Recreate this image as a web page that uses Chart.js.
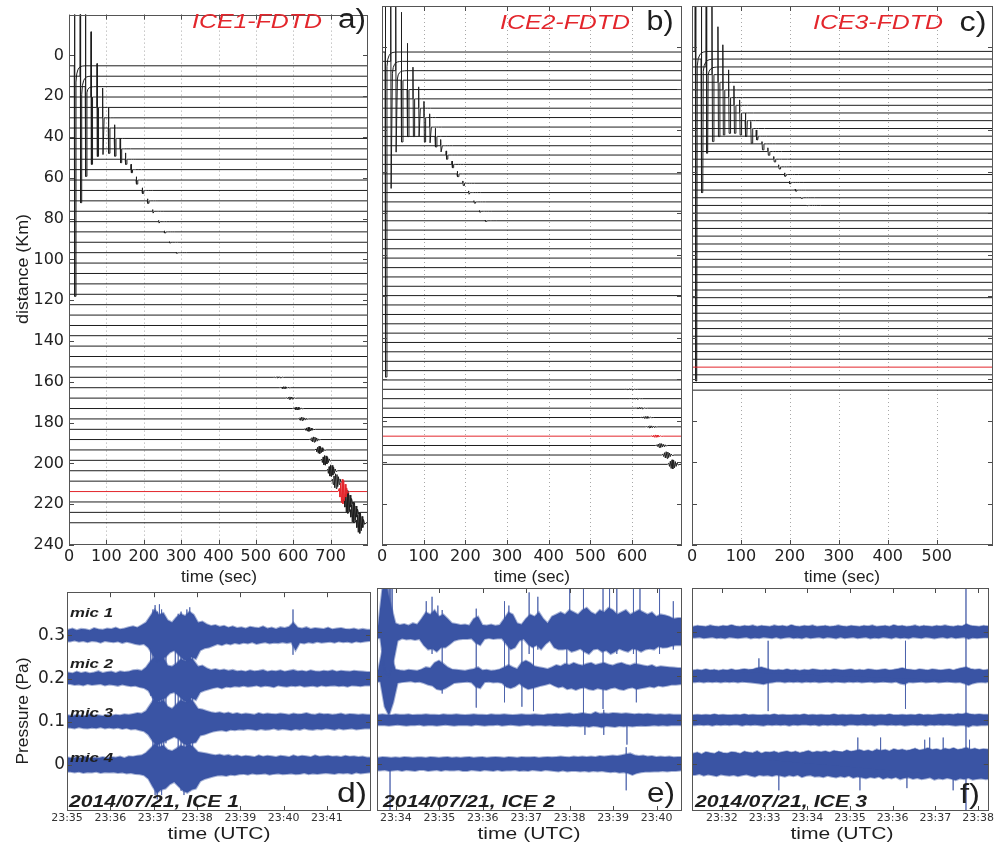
<!DOCTYPE html>
<html>
<head>
<meta charset="utf-8">
<title>ICE record sections and microphone pressure</title>
<script src="https://cdn.jsdelivr.net/npm/chart.js@4.4.0/dist/chart.umd.min.js"></script>
<style>
  html, body { margin: 0; padding: 0; background: #fff; }
  #wrap { position: relative; width: 995px; height: 848px; overflow: hidden; }
  canvas { position: absolute; }
</style>
</head>
<body>
<div id="wrap">
  <canvas id="ca"></canvas>
  <canvas id="cb"></canvas>
  <canvas id="cc"></canvas>
  <canvas id="cd"></canvas>
  <canvas id="ce"></canvas>
  <canvas id="cf"></canvas>
</div>
<script>
// ---------------- record sections (FDTD synthetics) ----------------
// trace distances, km
const A_DIST = [5.1, 10.2, 15.3, 20.4, 25.5, 30.6, 35.6, 40.7, 45.8, 50.9, 56.0, 61.1, 66.2, 71.3, 76.4, 81.5, 86.5, 91.6, 96.7, 101.8, 106.9, 112.0, 117.1, 122.2, 127.3, 132.4, 137.4, 142.5, 147.6, 152.7, 157.8, 162.9, 168.0, 173.1, 178.2, 183.3, 188.3, 193.4, 198.5, 203.6, 208.7, 213.8, 218.9, 224.0, 229.1];
const B_DIST = [2.2, 6.7, 11.2, 15.8, 20.3, 24.8, 29.3, 33.8, 38.4, 42.9, 47.4, 51.9, 56.4, 61.0, 65.5, 70.0, 74.5, 79.0, 83.6, 88.1, 92.6, 97.1, 101.6, 106.2, 110.7, 115.2, 119.7, 124.2, 128.8, 133.3, 137.8, 142.3, 146.8, 151.4, 155.9, 160.4, 164.9, 169.4, 174.0, 178.5, 183.0, 187.5, 192.0, 196.6, 201.1];
const C_DIST = [1.9, 5.6, 9.4, 13.1, 16.8, 20.5, 24.2, 27.9, 31.6, 35.3, 39.1, 42.8, 46.5, 50.2, 53.9, 57.6, 61.3, 65.1, 68.8, 72.5, 76.2, 79.9, 83.6, 87.3, 91.0, 94.8, 98.5, 102.2, 105.9, 109.6, 113.3, 117.0, 120.7, 124.5, 128.2, 131.9, 135.6, 139.3, 143.0, 146.7, 150.4, 154.2, 157.9, 161.6, 165.3];
const RED_TRACE = 41;   // station nearest the microphones

// direct arrivals on the first traces: time (s), upward / downward swing and slow tail (km)
const A_NEAR_T   = [14.7, 30, 44, 59, 75, 90, 105.6, 121.7, 137, 151, 166, 180, 196, 210, 224, 240, 255, 269, 287];
const A_NEAR_UP  = [60, 60, 50, 32, 21.5, 14.6, 10, 6.7, 5.2, 3.1, 2.6, 1.6, 1.3, 1, 0.8, 0.6, 0.5, 0.35, 0.25];
const A_NEAR_DN  = [113, 62, 44, 33, 24, 18, 12.4, 8.7, 6.8, 2.5, 1.5, 2, 1.5, 1.2, 0.9, 0.7, 0.5, 0.35, 0.25];
const A_NEAR_REC = [4, 4.5, 1.5];
const B_NEAR_T   = [7.9, 20.9, 32.9, 46.3, 60.7, 74.3, 88, 100.7, 114.4, 127.8, 140.8, 154, 168, 180.6, 194, 208, 220.6, 234, 247.7];
const B_NEAR_UP  = [60, 60, 50, 32.8, 22.3, 15.3, 10.3, 7.8, 6.4, 3.9, 3, 2, 1.6, 1.3, 1.1, 0.8, 0.6, 0.4, 0.3];
const B_NEAR_DN  = [156.8, 61.3, 39.3, 29.8, 22.7, 18.2, 13.7, 11.8, 7.6, 5.1, 3, 2, 1.6, 1.3, 1.1, 0.8, 0.6, 0.4, 0.3];
const B_NEAR_REC = [3.5, 3, 2];
const C_NEAR_T   = [6.7, 19, 29, 40.8, 53, 63, 74.8, 85.7, 97.3, 109, 120, 131.3, 143, 155, 167, 177, 189, 199, 211, 222, 234];
const C_NEAR_UP  = [60, 60, 50, 33, 26.8, 21.8, 13.4, 9.4, 6.3, 3.7, 3.4, 3, 1.1, 1.8, 1.3, 1, 0.8, 0.6, 0.5, 0.3, 0.2];
const C_NEAR_DN  = [159, 64.4, 41.6, 32.3, 26.2, 21.7, 17.2, 13.5, 10.6, 7.6, 7.1, 1.8, 2.9, 1.8, 1.3, 1, 0.8, 0.6, 0.5, 0.3, 0.2];
const C_NEAR_REC = [3.5, 3, 2];

// returns past the shadow zone: trace index, time (s), half amplitude (km)
const A_FAR_IDX = [30, 31, 32, 33, 34, 35, 36, 37, 38, 39, 40, 41, 42, 43, 44];
const A_FAR_T   = [560, 575, 592, 610, 623, 641, 655, 670, 685, 701, 714, 732, 745, 761, 777];
const A_FAR_AMP = [0.3, 0.5, 0.6, 0.7, 0.8, 1.0, 1.3, 1.8, 2.4, 2.9, 3.6, 6.0, 5.6, 5.2, 5.2];
const B_FAR_IDX = [36, 37, 38, 39, 40, 41, 42, 43, 44];
const B_FAR_T   = [595, 607, 619, 633, 644, 657, 668, 683, 697];
const B_FAR_AMP = [0.3, 0.3, 0.4, 0.5, 0.5, 0.6, 1.0, 1.6, 2.2];

const A_XTICKS = [0, 100, 200, 300, 400, 500, 600, 700];
const B_XTICKS = [0, 100, 200, 300, 400, 500, 600];
const C_XTICKS = [0, 100, 200, 300, 400, 500];
const DIST_TICKS = [0, 20, 40, 60, 80, 100, 120, 140, 160, 180, 200, 220, 240];

// ---------------- microphone records ----------------
const MIC_BASE = [0.3, 0.2, 0.1, 0];
const MIC_NAMES = ['mic 1', 'mic 2', 'mic 3', 'mic 4'];
const PRESSURE_TICKS = [0, 0.1, 0.2, 0.3];
const BIN = 6;   // seconds per envelope sample

const D_START = '23:35:00', D_END = '23:42:01';
const E_START = '23:33:34', E_END = '23:40:35';
const F_START = '23:31:18', F_END = '23:38:15';
const D_TIMES = ['23:35', '23:36', '23:37', '23:38', '23:39', '23:40', '23:41'];
const E_TIMES = ['23:34', '23:35', '23:36', '23:37', '23:38', '23:39', '23:40'];
const F_TIMES = ['23:32', '23:33', '23:34', '23:35', '23:36', '23:37', '23:38'];

// peak excursion above / below each baseline per 6 s, Pa
const D_MIC1_HI = [.013,.016,.012,.015,.014,.012,.017,.014,.013,.016, .015,.018,.014,.016,.019,.021,.018,.024,.030,.045, .060,.048,.052,.035,.030,.042,.050,.045,.055,.048, .030,.032,.026,.022,.024,.020,.022,.018,.021,.017, .019,.016,.020,.018,.017,.021,.016,.018,.015,.019, .017,.020,.030,.018,.016,.019,.015,.017,.016,.015, .018,.014,.016,.017,.015,.014,.016,.013,.015,.013];
const D_MIC1_LO = [.014,.012,.015,.013,.016,.013,.014,.017,.013,.015, .016,.014,.018,.015,.017,.020,.022,.020,.028,.045, .060,.055,.050,.040,.035,.045,.055,.060,.050,.055, .035,.030,.028,.024,.020,.023,.019,.021,.018,.020, .017,.019,.016,.020,.018,.016,.019,.017,.018,.016, .018,.016,.035,.017,.019,.016,.018,.015,.017,.016, .015,.017,.014,.016,.015,.017,.014,.016,.014,.013];
const D_MIC2_HI = [.014,.012,.016,.013,.015,.012,.014,.017,.013,.015, .016,.013,.017,.015,.016,.019,.020,.018,.026,.040, .050,.045,.048,.030,.028,.035,.045,.040,.050,.042, .028,.030,.024,.020,.022,.019,.021,.018,.020,.017, .018,.016,.019,.017,.018,.020,.016,.018,.017,.019, .016,.018,.020,.017,.018,.016,.019,.017,.016,.018, .017,.019,.016,.018,.017,.016,.018,.017,.016,.015];
const D_MIC2_LO = [.013,.015,.014,.016,.013,.015,.014,.013,.016,.014, .015,.017,.014,.016,.018,.017,.020,.022,.028,.045, .055,.050,.045,.035,.032,.040,.050,.055,.045,.050, .032,.028,.025,.022,.020,.023,.019,.020,.018,.019, .017,.019,.018,.016,.019,.017,.018,.020,.016,.018, .019,.017,.018,.016,.019,.018,.017,.019,.016,.018, .017,.016,.018,.017,.019,.016,.017,.018,.016,.016];
const D_MIC3_HI = [.015,.013,.016,.014,.013,.017,.014,.015,.013,.016, .014,.016,.015,.017,.016,.018,.020,.019,.025,.040, .055,.045,.050,.035,.030,.040,.050,.045,.055,.045, .030,.028,.025,.022,.020,.022,.019,.021,.018,.020, .017,.019,.018,.016,.020,.017,.019,.018,.017,.019, .018,.016,.019,.017,.018,.020,.017,.016,.019,.017, .018,.016,.017,.019,.016,.018,.017,.016,.017,.016];
const D_MIC3_LO = [.014,.016,.013,.015,.016,.014,.015,.013,.016,.014, .016,.014,.017,.015,.018,.017,.020,.022,.030,.045, .055,.050,.045,.040,.035,.040,.050,.055,.050,.048, .032,.030,.026,.023,.021,.020,.022,.019,.020,.018, .019,.017,.018,.020,.017,.019,.018,.016,.019,.017, .018,.020,.017,.019,.016,.018,.019,.017,.018,.016, .017,.019,.016,.018,.017,.016,.018,.017,.016,.016];
const D_MIC4_HI = [.017,.015,.018,.016,.019,.015,.017,.016,.018,.016, .018,.017,.019,.016,.020,.019,.021,.022,.028,.038, .048,.042,.045,.035,.032,.038,.045,.042,.048,.040, .030,.028,.026,.024,.022,.024,.021,.023,.020,.022, .019,.021,.020,.018,.022,.019,.021,.020,.018,.021, .020,.018,.022,.019,.021,.020,.018,.022,.019,.020, .021,.019,.020,.018,.021,.019,.020,.018,.019,.017];
const D_MIC4_LO = [.016,.018,.016,.019,.017,.018,.016,.019,.017,.018, .017,.019,.018,.020,.019,.021,.022,.024,.032,.050, .066,.058,.055,.045,.040,.050,.060,.065,.058,.055, .038,.033,.030,.027,.025,.024,.026,.023,.024,.022, .021,.023,.020,.022,.021,.020,.023,.021,.020,.022, .021,.020,.022,.021,.019,.022,.020,.021,.020,.019, .020,.021,.019,.020,.019,.021,.018,.020,.019,.018];

const E_MIC1_HI = [.015,.100,.100,.060,.020,.016,.018,.015,.020,.017, .030,.045,.040,.050,.035,.040,.030,.020,.018,.016, .017,.015,.030,.035,.016,.015,.017,.014,.016,.030, .045,.040,.020,.017,.030,.040,.035,.045,.030,.020, .035,.040,.045,.040,.050,.045,.040,.050,.055,.045, .040,.050,.045,.055,.050,.040,.045,.050,.040,.045, .050,.045,.040,.045,.035,.040,.038,.035,.030,.032];
const E_MIC1_LO = [.014,.090,.100,.070,.020,.015,.017,.016,.018,.016, .030,.040,.038,.045,.035,.035,.028,.020,.017,.016, .016,.015,.025,.030,.016,.014,.016,.015,.015,.028, .040,.035,.020,.016,.028,.035,.030,.040,.028,.020, .035,.040,.040,.038,.045,.042,.038,.045,.050,.040, .038,.045,.042,.050,.045,.038,.042,.045,.038,.040, .045,.040,.038,.040,.033,.036,.035,.032,.030,.030];
const E_MIC2_HI = [.013,.060,.080,.050,.015,.013,.012,.014,.013,.012, .015,.020,.018,.030,.035,.028,.020,.015,.014,.013, .012,.014,.016,.020,.013,.014,.012,.013,.015,.020, .025,.020,.016,.030,.035,.030,.022,.020,.018,.016, .020,.025,.022,.028,.025,.030,.026,.024,.028,.030, .025,.028,.030,.026,.024,.028,.030,.026,.024,.028, .026,.024,.022,.025,.020,.022,.021,.020,.019,.018];
const E_MIC2_LO = [.013,.070,.090,.060,.016,.014,.013,.012,.014,.013, .016,.020,.022,.030,.032,.028,.022,.016,.015,.014, .013,.015,.025,.028,.014,.013,.015,.014,.016,.025, .028,.024,.017,.025,.030,.028,.025,.022,.020,.017, .022,.026,.024,.030,.028,.032,.028,.026,.030,.032, .028,.030,.032,.028,.026,.030,.032,.028,.026,.030, .028,.026,.024,.026,.022,.024,.022,.020,.020,.019];
const E_MIC3_HI = [.012,.013,.012,.011,.013,.012,.012,.013,.011,.012, .012,.013,.012,.012,.011,.013,.012,.012,.013,.012, .011,.012,.013,.012,.012,.011,.013,.012,.012,.013, .012,.011,.012,.013,.012,.012,.013,.012,.011,.013, .013,.014,.013,.014,.015,.013,.014,.016,.014,.013, .018,.014,.015,.014,.016,.015,.014,.015,.014,.013, .014,.013,.014,.013,.012,.013,.012,.013,.012,.012];
const E_MIC3_LO = [.012,.012,.013,.012,.011,.012,.013,.012,.012,.011, .013,.012,.012,.013,.012,.011,.012,.013,.012,.012, .012,.013,.011,.012,.013,.012,.012,.011,.013,.012, .011,.012,.013,.012,.011,.013,.012,.012,.013,.012, .014,.013,.014,.015,.013,.014,.015,.014,.016,.014, .015,.017,.014,.015,.016,.014,.015,.014,.015,.014, .013,.014,.013,.012,.013,.012,.013,.012,.012,.012];
const E_MIC4_HI = [.014,.016,.015,.014,.015,.014,.016,.015,.014,.015, .015,.014,.016,.015,.014,.015,.016,.014,.015,.014, .015,.016,.014,.015,.016,.014,.015,.016,.015,.014, .016,.015,.014,.016,.015,.015,.016,.014,.015,.016, .015,.016,.017,.016,.015,.017,.016,.017,.016,.017, .016,.018,.017,.018,.019,.018,.020,.022,.024,.020, .018,.019,.017,.018,.016,.017,.016,.017,.015,.016];
const E_MIC4_LO = [.015,.014,.016,.015,.014,.016,.014,.015,.016,.014, .014,.016,.015,.014,.016,.014,.015,.015,.014,.016, .016,.014,.015,.016,.014,.015,.016,.014,.016,.015, .015,.014,.016,.015,.016,.014,.015,.016,.014,.015, .016,.017,.015,.017,.016,.016,.017,.016,.018,.016, .017,.016,.018,.019,.018,.020,.019,.021,.025,.021, .019,.018,.018,.017,.017,.016,.017,.016,.016,.015];

const F_MIC1_HI = [.012,.014,.013,.012,.015,.013,.012,.014,.013,.016, .013,.012,.014,.013,.015,.012,.014,.013,.012,.015, .013,.014,.012,.016,.013,.012,.014,.013,.015,.012, .013,.014,.012,.013,.015,.013,.012,.014,.013,.012, .014,.013,.015,.012,.013,.014,.012,.016,.013,.014, .012,.013,.015,.012,.014,.013,.012,.014,.013,.015, .013,.012,.014,.013,.018,.014,.013,.012,.014,.013];
const F_MIC1_LO = [.013,.012,.014,.013,.012,.014,.013,.015,.012,.013, .014,.013,.012,.015,.013,.014,.012,.013,.014,.012, .015,.013,.012,.014,.013,.015,.012,.014,.013,.012, .014,.012,.013,.015,.012,.014,.013,.012,.014,.013, .012,.015,.013,.014,.012,.013,.015,.012,.014,.013, .015,.012,.013,.014,.012,.013,.015,.013,.012,.014, .012,.014,.013,.012,.016,.013,.014,.013,.012,.013];
const F_MIC2_HI = [.013,.014,.013,.015,.013,.014,.012,.014,.013,.015, .013,.014,.016,.014,.015,.018,.020,.017,.014,.013, .014,.013,.015,.013,.014,.012,.014,.013,.015,.014, .013,.014,.013,.015,.014,.013,.014,.015,.013,.014, .013,.015,.014,.013,.014,.015,.013,.014,.016,.018, .015,.014,.013,.015,.014,.013,.015,.014,.013,.014, .015,.013,.016,.018,.020,.016,.014,.015,.013,.014];
const F_MIC2_LO = [.014,.013,.015,.013,.014,.013,.015,.013,.014,.013, .015,.013,.014,.015,.016,.017,.019,.016,.015,.013, .013,.015,.013,.014,.013,.015,.013,.014,.013,.015, .014,.013,.015,.013,.014,.015,.013,.014,.013,.015, .014,.013,.015,.014,.013,.014,.015,.013,.017,.019, .014,.015,.014,.013,.015,.014,.013,.015,.014,.013, .014,.015,.014,.017,.021,.017,.015,.014,.015,.013];
const F_MIC3_HI = [.011,.012,.011,.012,.011,.013,.011,.012,.011,.011, .012,.011,.013,.011,.012,.011,.011,.012,.011,.013, .011,.012,.011,.011,.012,.011,.013,.011,.012,.011, .012,.011,.011,.013,.011,.012,.011,.012,.011,.011, .013,.011,.012,.011,.012,.011,.013,.011,.011,.012, .011,.012,.011,.013,.011,.012,.011,.012,.013,.012, .013,.012,.014,.013,.015,.013,.012,.013,.012,.012];
const F_MIC3_LO = [.012,.011,.012,.011,.013,.011,.012,.011,.012,.011, .011,.013,.011,.012,.011,.012,.013,.011,.012,.011, .012,.011,.013,.011,.012,.011,.011,.012,.011,.013, .011,.012,.011,.012,.011,.013,.011,.011,.012,.011, .012,.011,.013,.011,.011,.012,.011,.012,.011,.013, .012,.011,.012,.011,.013,.011,.012,.011,.012,.011, .012,.013,.012,.012,.016,.012,.013,.012,.012,.011];
const F_MIC4_HI = [.024,.026,.022,.027,.025,.023,.028,.025,.024,.027, .026,.023,.028,.026,.025,.029,.024,.027,.026,.028, .025,.027,.029,.026,.028,.025,.027,.030,.026,.028, .027,.029,.026,.030,.028,.027,.031,.028,.030,.032, .029,.031,.028,.033,.030,.032,.029,.034,.031,.033, .030,.032,.035,.031,.033,.036,.032,.034,.031,.035, .033,.036,.032,.034,.037,.033,.035,.032,.034,.033];
const F_MIC4_LO = [.025,.023,.027,.024,.026,.028,.024,.026,.027,.025, .028,.026,.024,.027,.029,.025,.027,.026,.028,.025, .027,.029,.026,.028,.025,.030,.027,.026,.029,.028, .030,.027,.029,.031,.028,.030,.027,.032,.029,.031, .033,.030,.032,.029,.034,.031,.033,.030,.035,.032, .031,.034,.032,.035,.033,.031,.036,.033,.035,.032, .034,.037,.033,.035,.032,.036,.034,.033,.035,.034];

// isolated excursions: time (s from panel start), top and bottom (Pa)
const D_SPK_T  = [116, 119, 122, 125, 128, 131, 134, 137, 150, 154, 158, 162, 166, 170, 174, 313];
const D_SPK_HI = [0.34, 0.36, 0.37, 0.355, 0.372, 0.36, 0.345, 0.33, 0.335, 0.35, 0.355, 0.345, 0.36, 0.365, 0.335, 0.36];
const D_SPK_LO = [0.16, -0.04, -0.07, -0.08, -0.05, -0.07, -0.03, 0.05, 0.10, -0.02, -0.06, -0.07, -0.05, -0.06, 0.02, 0.255];
const E_SPK_T  = [9, 11, 13, 15, 17, 19, 21, 18, 68, 76, 84, 90, 137, 176, 182, 200, 210, 216, 222, 262, 266, 285, 287, 312, 313, 321, 331, 344, 345, 354, 358, 363, 390, 409];
const E_SPK_HI = [0.40, 0.40, 0.40, 0.40, 0.40, 0.40, 0.40, 0.0, 0.37, 0.38, 0.36, 0.35, 0.353, 0.37, 0.36, 0.30, 0.39, 0.33, 0.38, 0.33, 0.40, 0.40, 0.10, 0.40, 0.123, 0.40, 0.40, 0.038, 0.10, 0.40, 0.33, 0.40, 0.40, 0.37];
const E_SPK_LO = [0.20, 0.15, 0.14, 0.15, 0.16, 0.17, 0.20, -0.107, 0.27, 0.25, 0.26, 0.16, 0.128, 0.14, 0.22, 0.13, 0.25, 0.12, 0.26, 0.19, 0.26, 0.11, 0.066, 0.125, 0.066, 0.26, 0.25, -0.06, 0.044, 0.25, 0.14, 0.26, 0.25, 0.26];
const F_SPK_T  = [107, 300, 385, 94, 233, 265, 327, 334, 353, 390, 122, 302, 367, 236];
const F_SPK_HI = [0.28, 0.28, 0.40, 0.24, 0.06, 0.06, 0.055, 0.06, 0.06, 0.055, 0.0, 0.0, 0.0, 0.0];
const F_SPK_LO = [0.12, 0.125, -0.107, 0.20, 0.0, 0.0, 0.0, 0.0, 0.0, 0.0, -0.06, -0.055, -0.06, -0.06];

// ---------------- styles ----------------
const INK = '#1e1e1e';
const RED = '#e3262c';
const BLUE = '#3a54a4';
const BLUE_EDGE = 'rgba(58,84,164,0.45)';
const BLUE_SPIKE = 'rgba(58,84,164,0.55)';
const TICK_FONT = 'DejaVu Sans';
const TEXT_FONT = '"Liberation Sans", Arial, sans-serif';

// glyph of a direct arrival: [dt, x up, x down, x tail]
const N_WAVE = [[-0.6, 0, 0, 0], [0, -1, 0, 0], [1, 0, 1, 0], [3, 0, 1, 0], [4, 0, 0, 2], [6, 0, 0, 1], [9, 0, 0, 0.5], [12, 0, 0, 0.25], [16, 0, 0, 0.1], [21, 0, 0, 0.03], [28, 0, 0, 0]];
// glyph of a ducted return: [dt, x amplitude]
const PACKET = [[-12, 0], [-9, 0.25], [-7, -0.45], [-5, 0.7], [-3, -0.9], [-1, 1], [1, -1], [3, 0.9], [5, -0.75], [7, 0.6], [9, -0.45], [11, 0.3], [14, -0.15], [18, 0]];

// canvas boxes and plot areas in page pixels
const LAYOUT = {
  a: { cx: 0,   cy: 0,   cw: 380, ch: 590, l: 69,  t: 6,   r: 368, b: 545 },
  b: { cx: 370, cy: 0,   cw: 325, ch: 590, l: 382, t: 6,   r: 682, b: 545 },
  c: { cx: 682, cy: 0,   cw: 313, ch: 590, l: 692, t: 6,   r: 993, b: 545 },
  d: { cx: 0,   cy: 580, cw: 380, ch: 268, l: 67,  t: 588, r: 371, b: 811 },
  e: { cx: 370, cy: 580, cw: 320, ch: 268, l: 377, t: 588, r: 682, b: 811 },
  f: { cx: 684, cy: 580, cw: 311, ch: 268, l: 692, t: 588, r: 993, b: 811 }
};

function toSec(hms) {
  const p = hms.split(':').map(Number);
  return p[0] * 3600 + p[1] * 60 + (p[2] || 0);
}

function drawText(ctx, o, ox, oy) {
  ctx.save();
  ctx.font = o.font;
  ctx.fillStyle = o.color || INK;
  ctx.textAlign = o.align || 'center';
  ctx.textBaseline = o.base || 'middle';
  ctx.translate(o.x - ox, o.y - oy);
  if (o.rot) ctx.rotate(o.rot);
  if (o.w) ctx.scale(o.w / ctx.measureText(o.s).width, 1);
  ctx.fillText(o.s, 0, 0);
  ctx.restore();
}

// box, inward ticks, dotted time grid and panel texts
const framePlugin = {
  id: 'frame',
  beforeDatasetsDraw(chart, args, opts) {
    if (!opts.grid) return;
    const { ctx, chartArea: a, scales } = chart;
    ctx.save();
    ctx.strokeStyle = '#a8a8a8';
    ctx.lineWidth = 1;
    ctx.setLineDash([1, 3]);
    scales.x.ticks.forEach(t => {
      const px = Math.round(scales.x.getPixelForValue(t.value)) + 0.5;
      if (px < a.left + 2 || px > a.right - 2) return;
      ctx.beginPath(); ctx.moveTo(px, a.top); ctx.lineTo(px, a.bottom); ctx.stroke();
    });
    ctx.restore();
  },
  afterDatasetsDraw(chart, args, opts) {
    const { ctx, chartArea: a, scales } = chart;
    const L = 5;
    ctx.save();
    ctx.strokeStyle = '#4a4a4a';
    ctx.lineWidth = 1;
    ctx.beginPath();
    scales.x.ticks.forEach(t => {
      const px = Math.round(scales.x.getPixelForValue(t.value)) + 0.5;
      ctx.moveTo(px, a.bottom); ctx.lineTo(px, a.bottom - L);
      ctx.moveTo(px, a.top); ctx.lineTo(px, a.top + L);
    });
    scales.y.ticks.forEach(t => {
      const py = Math.round(scales.y.getPixelForValue(t.value)) + 0.5;
      ctx.moveTo(a.left, py); ctx.lineTo(a.left + L, py);
      ctx.moveTo(a.right, py); ctx.lineTo(a.right - L, py);
    });
    ctx.stroke();
    ctx.strokeStyle = '#555';
    ctx.strokeRect(Math.round(a.left) + 0.5, Math.round(a.top) + 0.5, Math.round(a.right - a.left) - 1, Math.round(a.bottom - a.top) - 1);
    ctx.restore();
  },
  afterDraw(chart, args, opts) {
    (opts.texts || []).forEach(o => drawText(chart.ctx, o, opts.ox, opts.oy));
  }
};

function makeChart(id, L, datasets, x, y, frame) {
  const cv = document.getElementById(id);
  cv.width = L.cw; cv.height = L.ch;
  cv.style.left = L.cx + 'px'; cv.style.top = L.cy + 'px';
  const yW = L.l - L.cx, xH = L.cy + L.ch - L.b;
  const bare = { grid: { display: false, drawTicks: false }, border: { display: false } };
  return new Chart(cv, {
    type: 'line',
    data: { datasets },
    options: {
      responsive: false,
      animation: false,
      devicePixelRatio: 1,
      parsing: false,
      layout: { padding: { left: 0, top: L.t - L.cy, right: L.cx + L.cw - L.r, bottom: 0 } },
      plugins: {
        legend: { display: false },
        tooltip: { enabled: false },
        frame: Object.assign({ ox: L.cx, oy: L.cy }, frame)
      },
      elements: { point: { radius: 0 }, line: { tension: 0 } },
      scales: {
        x: Object.assign({ type: 'linear', afterFit: s => { s.height = xH; } }, bare, x),
        y: Object.assign({ type: 'linear', afterFit: s => { s.width = yW; } }, bare, y)
      }
    },
    plugins: [framePlugin]
  });
}

// ---------------- record section datasets ----------------
function sectionDatasets(dist, tEnd, near, farIdx, farT, farAmp) {
  const [nT, nUp, nDn, nRec] = near;
  return dist.map((d, i) => {
    const pts = [{ x: 0, y: d }];
    if (i < nT.length) {
      const rec = nRec[i] || 0;
      N_WAVE.forEach(([dt, u, v, w]) => pts.push({ x: nT[i] + dt, y: d + u * nUp[i] + v * nDn[i] + w * rec }));
    }
    const k = farIdx.indexOf(i);
    if (k >= 0) {
      PACKET.forEach(([dt, f]) => pts.push({ x: farT[k] + dt, y: d - f * farAmp[k] }));
    }
    pts.push({ x: tEnd, y: d });
    return {
      data: pts,
      borderColor: i === RED_TRACE ? RED : INK,
      borderWidth: 1,
      pointRadius: 0,
      fill: false,
      order: i === RED_TRACE ? -1 : 0
    };
  });
}

function sectionX(max, ticks) {
  return {
    min: 0, max,
    afterBuildTicks: s => { s.ticks = ticks.map(v => ({ value: v })); },
    ticks: { font: { family: TICK_FONT, size: 16 }, color: '#222', padding: 2, maxRotation: 0, autoSkip: false }
  };
}
function sectionY(showLabels) {
  return {
    min: -20, max: 240, reverse: true,
    afterBuildTicks: s => { s.ticks = DIST_TICKS.map(v => ({ value: v })); },
    ticks: { display: showLabels, font: { family: TICK_FONT, size: 16 }, color: '#222', padding: 5 }
  };
}

// ---------------- pressure datasets ----------------
// each record is a solid band between its upper and lower peak envelopes
function pressureDatasets(span, env, spkT, spkHi, spkLo) {
  const ds = [];
  env.forEach(([hi, lo], j) => {
    const base = MIC_BASE[j];
    const upper = [{ x: 0, y: base + hi[0] }];
    const lower = [{ x: 0, y: base - lo[0] }];
    hi.forEach((h, k) => {
      const xc = BIN / 2 + BIN * k;
      upper.push({ x: xc - BIN / 4, y: base + h });
      lower.push({ x: xc + BIN / 4, y: base - lo[k] });
    });
    upper.push({ x: span, y: base + hi[hi.length - 1] });
    lower.push({ x: span, y: base - lo[lo.length - 1] });
    ds.push({ data: upper, borderColor: BLUE_EDGE, borderWidth: 2, pointRadius: 0, fill: false });
    ds.push({ data: lower, borderColor: BLUE_EDGE, borderWidth: 2, pointRadius: 0, fill: '-1', backgroundColor: BLUE });
  });
  const spikes = [];
  spkT.forEach((t, k) => {
    spikes.push({ x: t, y: spkHi[k] }, { x: t, y: spkLo[k] }, { x: t, y: null });
  });
  ds.push({ data: spikes, borderColor: BLUE_SPIKE, borderWidth: 1, pointRadius: 0, fill: false, spanGaps: false });
  return ds;
}

function timeX(start, end, labels) {
  const t0 = toSec(start);
  return {
    min: 0, max: toSec(end) - t0,
    afterBuildTicks: s => { s.ticks = labels.map(l => ({ value: toSec(l) - t0 })); },
    ticks: {
      font: { family: TICK_FONT, size: 11 }, color: '#333', padding: 1, maxRotation: 0, autoSkip: false,
      callback: (v, i) => labels[i]
    }
  };
}
function pressureY(showLabels) {
  return {
    min: -0.107, max: 0.4,
    afterBuildTicks: s => { s.ticks = PRESSURE_TICKS.map(v => ({ value: v })); },
    ticks: {
      display: showLabels, font: { family: TICK_FONT, size: 17 }, color: '#222', padding: 2,
      callback: v => (v === 0 ? '0' : v.toFixed(1))
    }
  };
}

// ---------------- panel texts ----------------
const LBL = '17px ' + TEXT_FONT;
const TAG = '27px ' + TEXT_FONT;
const MODEL = 'italic 20px ' + TEXT_FONT;
const STAMP = 'italic bold 16px ' + TEXT_FONT;
const MIC = 'italic bold 13px ' + TEXT_FONT;

const textsA = [
  { s: 'distance (Km)', x: 23, y: 269, font: LBL, rot: -Math.PI / 2, w: 110 },
  { s: 'time (sec)', x: 219, y: 577, font: LBL, w: 76 },
  { s: 'ICE1-FDTD', x: 257, y: 22, font: MODEL, color: RED, w: 130 },
  { s: 'a)', x: 352, y: 21, font: TAG, w: 28 }
];
const textsB = [
  { s: 'time (sec)', x: 532, y: 577, font: LBL, w: 76 },
  { s: 'ICE2-FDTD', x: 565, y: 23, font: MODEL, color: RED, w: 130 },
  { s: 'b)', x: 660, y: 23, font: TAG, w: 27 }
];
const textsC = [
  { s: 'time (sec)', x: 842, y: 577, font: LBL, w: 76 },
  { s: 'ICE3-FDTD', x: 878, y: 23, font: MODEL, color: RED, w: 130 },
  { s: 'c)', x: 973, y: 24, font: TAG, w: 27 }
];
const micBaselines = [617, 668, 717, 762];
const textsD = [
  { s: 'Pressure (Pa)', x: 23, y: 711, font: LBL, rot: -Math.PI / 2, w: 107 },
  { s: 'time (UTC)', x: 219, y: 835, font: '16px ' + TEXT_FONT, w: 103 },
  { s: '2014/07/21, ICE 1', x: 69, y: 807, font: STAMP, align: 'left', base: 'alphabetic', w: 170 },
  { s: 'd)', x: 352, y: 795, font: TAG, w: 30 }
].concat(MIC_NAMES.map((m, j) => ({ s: m, x: 70, y: micBaselines[j], font: MIC, align: 'left', base: 'alphabetic', w: 43 })));
const textsE = [
  { s: 'time (UTC)', x: 529, y: 835, font: '16px ' + TEXT_FONT, w: 103 },
  { s: '2014/07/21, ICE 2', x: 383, y: 807, font: STAMP, align: 'left', base: 'alphabetic', w: 172 },
  { s: 'e)', x: 661, y: 795, font: TAG, w: 28 }
];
const textsF = [
  { s: 'time (UTC)', x: 842, y: 835, font: '16px ' + TEXT_FONT, w: 103 },
  { s: '2014/07/21, ICE 3', x: 695, y: 807, font: STAMP, align: 'left', base: 'alphabetic', w: 172 },
  { s: 'f)', x: 970, y: 796, font: TAG, w: 20 }
];

// ---------------- build ----------------
makeChart('ca', LAYOUT.a,
  sectionDatasets(A_DIST, 800, [A_NEAR_T, A_NEAR_UP, A_NEAR_DN, A_NEAR_REC], A_FAR_IDX, A_FAR_T, A_FAR_AMP),
  sectionX(800, A_XTICKS), sectionY(true), { grid: true, texts: textsA });
makeChart('cb', LAYOUT.b,
  sectionDatasets(B_DIST, 720, [B_NEAR_T, B_NEAR_UP, B_NEAR_DN, B_NEAR_REC], B_FAR_IDX, B_FAR_T, B_FAR_AMP),
  sectionX(720, B_XTICKS), sectionY(false), { grid: true, texts: textsB });
makeChart('cc', LAYOUT.c,
  sectionDatasets(C_DIST, 615, [C_NEAR_T, C_NEAR_UP, C_NEAR_DN, C_NEAR_REC], [], [], []),
  sectionX(615, C_XTICKS), sectionY(false), { grid: true, texts: textsC });

makeChart('cd', LAYOUT.d,
  pressureDatasets(toSec(D_END) - toSec(D_START),
    [[D_MIC1_HI, D_MIC1_LO], [D_MIC2_HI, D_MIC2_LO], [D_MIC3_HI, D_MIC3_LO], [D_MIC4_HI, D_MIC4_LO]],
    D_SPK_T, D_SPK_HI, D_SPK_LO),
  timeX(D_START, D_END, D_TIMES), pressureY(true), { grid: false, texts: textsD });
makeChart('ce', LAYOUT.e,
  pressureDatasets(toSec(E_END) - toSec(E_START),
    [[E_MIC1_HI, E_MIC1_LO], [E_MIC2_HI, E_MIC2_LO], [E_MIC3_HI, E_MIC3_LO], [E_MIC4_HI, E_MIC4_LO]],
    E_SPK_T, E_SPK_HI, E_SPK_LO),
  timeX(E_START, E_END, E_TIMES), pressureY(false), { grid: false, texts: textsE });
makeChart('cf', LAYOUT.f,
  pressureDatasets(toSec(F_END) - toSec(F_START),
    [[F_MIC1_HI, F_MIC1_LO], [F_MIC2_HI, F_MIC2_LO], [F_MIC3_HI, F_MIC3_LO], [F_MIC4_HI, F_MIC4_LO]],
    F_SPK_T, F_SPK_HI, F_SPK_LO),
  timeX(F_START, F_END, F_TIMES), pressureY(false), { grid: false, texts: textsF });
</script>
</body>
</html>
